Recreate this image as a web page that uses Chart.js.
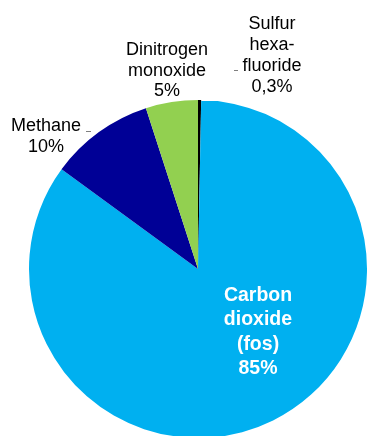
<!DOCTYPE html>
<html>
<head>
<meta charset="utf-8">
<script src="https://cdn.jsdelivr.net/npm/chart.js@4/dist/chart.umd.min.js"></script>
<style>
  html, body { margin: 0; padding: 0; background: #fff; overflow: hidden; }
  #wrap { width: 367px; height: 440px; }
</style>
</head>
<body>
<div id="wrap"><canvas id="ghg-chart" width="367" height="440"></canvas></div>
<script>
// gases, shares in percent (clockwise from 12 o'clock)
var gases = ["Sulfur hexafluoride", "Carbon dioxide (fos)", "Methane", "Dinitrogen monoxide"];
var shares = [0.3, 85, 10, 5];
var shareText = ["0,3%", "85%", "10%", "5%"];
var labelLines = [
    ["Sulfur", "hexa-", "fluoride"],
    ["Carbon", "dioxide", "(fos)"],
    ["Methane"],
    ["Dinitrogen", "monoxide"]
];
var colors = ["#000000", "#00B0F0", "#000096", "#92D050"];

// where each label block sits, relative to the pie centre (dx, first baseline dy, line step)
var labelPlace = [
    { dx: 74, dy: -240, step: 21, bold: false, color: "#000" },
    { dx: 60, dy: 32, step: 24.3, bold: true, color: "#fff" },
    { dx: -152, dy: -138, step: 21, bold: false, color: "#000" },
    { dx: -31, dy: -214, step: 20.5, bold: false, color: "#000" }
];

var labelPlugin = {
    id: "sliceLabels",
    afterDatasetsDraw: function (chart) {
        var ctx = chart.ctx;
        var arc = chart.getDatasetMeta(0).data[0];
        var cx = arc.x, cy = arc.y;
        ctx.save();
        ctx.textAlign = "center";
        ctx.textBaseline = "alphabetic";
        labelLines.forEach(function (lines, i) {
            var p = labelPlace[i];
            var all = lines.concat([shareText[i]]);
            ctx.fillStyle = p.color;
            ctx.font = (p.bold ? "bold 19.5px" : "18px") + " 'Liberation Sans', Arial, sans-serif";
            all.forEach(function (t, j) {
                ctx.fillText(t, cx + p.dx, cy + p.dy + j * p.step);
            });
        });
        // little leader ticks
        ctx.strokeStyle = "#7f7f7f";
        ctx.lineWidth = 1;
        ctx.beginPath();
        ctx.moveTo(cx + 36, cy - 198.5);
        ctx.lineTo(cx + 40, cy - 198.5);
        ctx.moveTo(cx - 112, cy - 137.5);
        ctx.lineTo(cx - 107, cy - 137.5);
        ctx.stroke();
        ctx.restore();
    }
};

new Chart(document.getElementById("ghg-chart").getContext("2d"), {
    type: "pie",
    data: {
        labels: gases,
        datasets: [{
            data: shares,
            backgroundColor: colors,
            borderWidth: 0,
            hoverOffset: 0,
            offset: 0
        }]
    },
    options: {
        responsive: false,
        animation: false,
        devicePixelRatio: 1,
        layout: { padding: { left: 29, right: 0, top: 100, bottom: 2 } },
        plugins: {
            legend: { display: false },
            tooltip: { enabled: false }
        }
    },
    plugins: [labelPlugin]
});
</script>
</body>
</html>
